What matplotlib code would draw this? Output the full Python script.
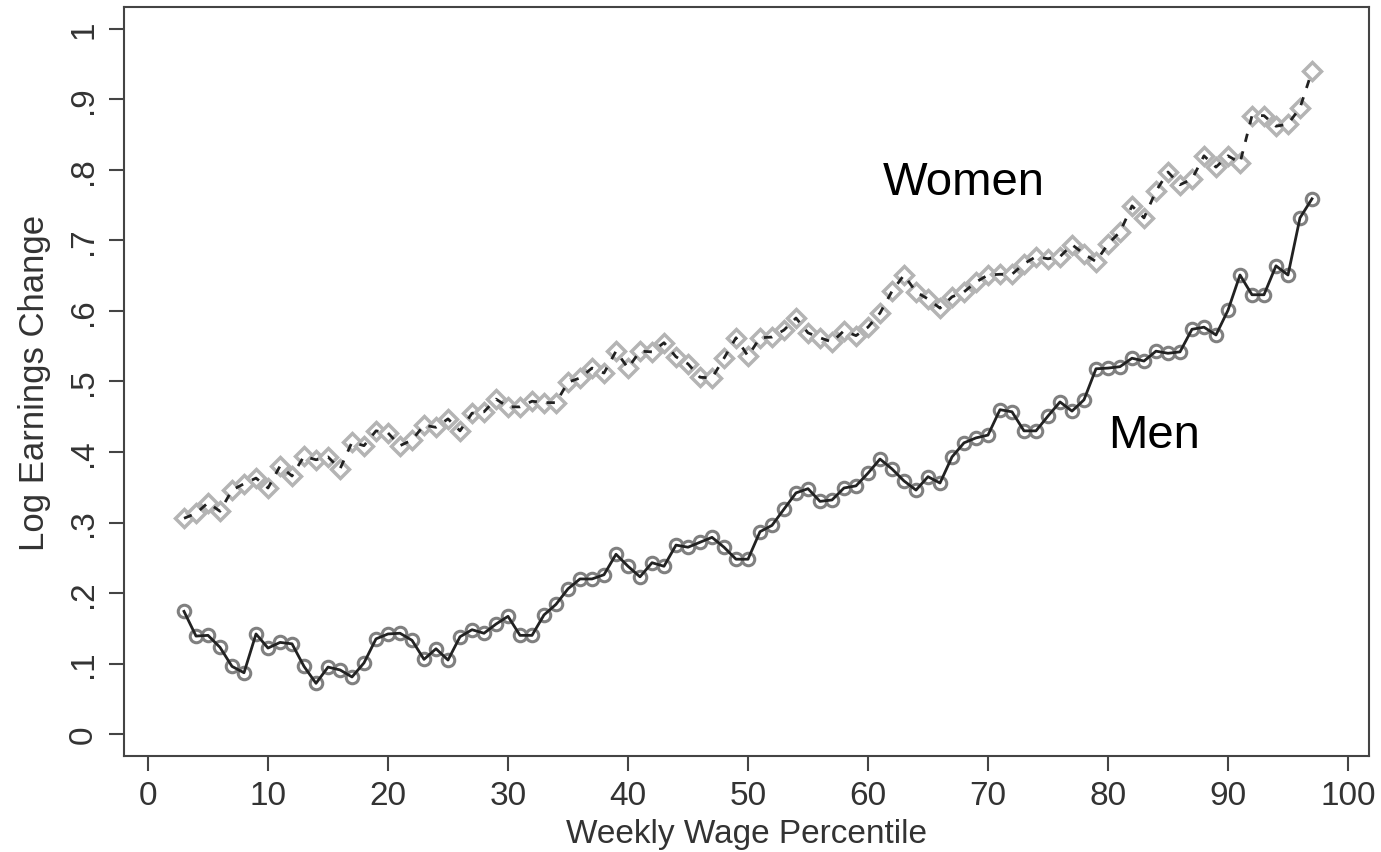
import numpy as np
import matplotlib
matplotlib.use("Agg")
import matplotlib.pyplot as plt

plt.rcParams['font.family'] = ['Liberation Sans', 'DejaVu Sans']

pct = list(range(3, 98))

women = [0.306, 0.313, 0.328, 0.316, 0.346, 0.355, 0.363, 0.349, 0.380, 0.366,
         0.394, 0.389, 0.393, 0.376, 0.414, 0.409, 0.430, 0.427, 0.409, 0.417,
         0.438, 0.435, 0.447, 0.430, 0.455, 0.457, 0.475, 0.464, 0.464, 0.472,
         0.470, 0.470, 0.499, 0.505, 0.519, 0.512, 0.543, 0.519, 0.543, 0.542,
         0.555, 0.535, 0.525, 0.506, 0.505, 0.533, 0.562, 0.536, 0.562, 0.563,
         0.573, 0.590, 0.569, 0.562, 0.556, 0.572, 0.565, 0.577, 0.597, 0.628,
         0.651, 0.627, 0.617, 0.604, 0.620, 0.627, 0.641, 0.651, 0.652, 0.652,
         0.667, 0.677, 0.674, 0.677, 0.694, 0.681, 0.670, 0.695, 0.712, 0.749,
         0.732, 0.770, 0.797, 0.779, 0.787, 0.820, 0.804, 0.820, 0.810, 0.877,
         0.877, 0.862, 0.865, 0.888, 0.940]

men = [0.174, 0.139, 0.140, 0.123, 0.096, 0.087, 0.142, 0.122, 0.130, 0.128,
       0.096, 0.072, 0.095, 0.091, 0.081, 0.101, 0.135, 0.142, 0.143, 0.133,
       0.106, 0.121, 0.105, 0.138, 0.148, 0.143, 0.156, 0.167, 0.140, 0.140,
       0.169, 0.184, 0.206, 0.220, 0.220, 0.226, 0.255, 0.238, 0.223, 0.243,
       0.238, 0.268, 0.265, 0.272, 0.279, 0.265, 0.248, 0.248, 0.287, 0.296,
       0.319, 0.342, 0.348, 0.330, 0.332, 0.349, 0.352, 0.370, 0.390, 0.376,
       0.359, 0.346, 0.365, 0.356, 0.393, 0.413, 0.420, 0.424, 0.460, 0.457,
       0.430, 0.430, 0.451, 0.471, 0.458, 0.474, 0.518, 0.519, 0.521, 0.533,
       0.529, 0.543, 0.540, 0.542, 0.574, 0.577, 0.566, 0.601, 0.651, 0.623,
       0.623, 0.664, 0.651, 0.732, 0.759]

xticks = list(range(0, 101, 10))
yticks = [i / 10 for i in range(11)]
ylabels = ['0', '.1', '.2', '.3', '.4', '.5', '.6', '.7', '.8', '.9', '1']

fig = plt.figure(figsize=(13.81, 8.53), dpi=100)
ax = fig.add_axes([0.0898, 0.1126, 0.9015, 0.878])

# women: light grey hollow diamonds, dashed black line
ax.plot(pct, women, linestyle='none', marker='D', markersize=9,
        markerfacecolor='white', markeredgecolor='#b4b4b4', markeredgewidth=2.5, zorder=2)
ax.plot(pct, women, color='#222222', lw=2, dashes=(3, 3.5), zorder=3)

# men: grey hollow circles, solid black line
ax.plot(pct, men, linestyle='none', marker='o', markersize=9,
        markerfacecolor='none', markeredgecolor='#808080', markeredgewidth=2.2, zorder=2)
ax.plot(pct, men, color='#222222', lw=2, zorder=3)

ax.text(61.2, 0.766, 'Women', fontsize=34, color='black')
ax.text(80, 0.407, 'Men', fontsize=34, color='black')

ax.set_xlim(-2, 101.75)
ax.set_ylim(-0.031, 1.031)
ax.set_xticks(xticks)
ax.set_yticks(yticks)
ax.set_yticklabels(ylabels, rotation=90, va='center')
ax.tick_params(axis='both', length=11, width=1.5, color='#444444',
               labelsize=24, labelcolor='#333333', direction='out')
ax.tick_params(axis='y', pad=7)
ax.tick_params(axis='x', pad=6)
for s in ax.spines.values():
    s.set_color('#444444')
    s.set_linewidth(1.5)

ax.set_xlabel('Weekly Wage Percentile', fontsize=24, color='#333333', labelpad=5)
ax.set_ylabel('Log Earnings Change', fontsize=25, color='#333333', labelpad=12)

fig.savefig('out.png', dpi=100)
